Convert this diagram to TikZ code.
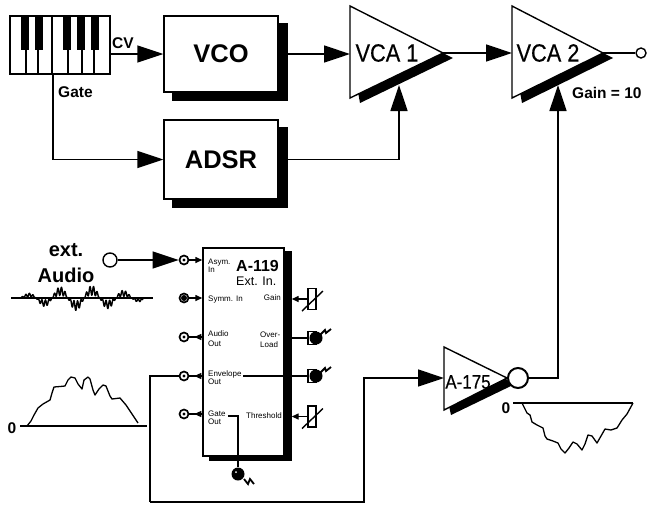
\documentclass[tikz,border=0pt]{standalone}
\usepackage{fontspec}
\setmainfont{Liberation Sans}
\newfontfamily\narrowfont[FakeStretch=0.87,FakeBold=0.4]{Liberation Sans}
\usetikzlibrary{positioning, shapes, shadows, arrows.meta, calc}

\tikzset{
	sig/.style={line width=1.4pt, -{Triangle[length=26pt,width=17pt]}},
	smallsig/.style={line width=1.4pt, -{Triangle[length=7pt,width=6pt]}},
	wire/.style={line width=1.4pt},
	mainbox/.style={draw, fill=white, line width=1.4pt, inner sep=0pt, minimum width=114pt,
		copy shadow={draw=black, fill=black, shadow xshift=9pt, shadow yshift=-8pt},
		font=\fontsize{25.5}{25.5}\selectfont\bfseries},
	jack/.style={circle, draw, fill=white, line width=1.7pt, minimum size=9pt, inner sep=0pt},
	pot/.style={draw, fill=white, line width=1.4pt, minimum width=8pt, minimum height=21pt, inner sep=0pt},
	led/.style={circle, fill=black, minimum size=13pt, inner sep=0pt},
	lab/.style={inner sep=0pt, align=left, anchor=west, font=\fontsize{8}{8}\selectfont},
	boldlab/.style={inner sep=0pt, font=\fontsize{15.5}{15.5}\selectfont\bfseries},
	vcalab/.style={inner sep=0pt, font=\fontsize{25}{25}\selectfont\narrowfont},
	curve/.style={line width=1.3pt, line join=round},
}

\begin{document}
\begin{tikzpicture}[x=1pt, y=-1pt]
	\useasboundingbox (0,0) rectangle (647,504);

	% Keyboard
	\node[draw, fill=white, line width=1.4pt, minimum width=100pt, minimum height=58pt, inner sep=0pt] (keys) at (60,45) {};
	\foreach \x in {26,38,52,68,82,94}
		\draw[wire] (\x,16) -- (\x,74);
	\foreach \x in {25,39,67,81,95}
		\fill (\x-4,16) rectangle (\x+4,50);
	\coordinate (cvout) at (110,54);
	\coordinate (gateout) at (53,74);

	% Boxes
	\node[mainbox, minimum height=76pt] (vco) at (221,54) {VCO};
	\node[mainbox, minimum height=79pt] (adsr) at (221,159.5) {ADSR\hspace{8pt}};

	% VCA 1
	\fill (358,92) -- (443,53) -- (453,58) -- (360,103) -- cycle;
	\filldraw[fill=white, line width=1.4pt] (350,6) -- (443,53) -- (350,98) -- cycle;
	\node[vcalab] (vcaone) at (387,53) {VCA 1};
	\coordinate (vcaonein) at (350,54);
	\coordinate (vcaoneout) at (443,53);
	\coordinate (vcaonecv) at (399,85);

	% VCA 2
	\fill (520,92) -- (603,53) -- (613,58) -- (522,103) -- cycle;
	\filldraw[fill=white, line width=1.4pt] (512,6) -- (603,53) -- (512,98) -- cycle;
	\node[vcalab] (vcatwo) at (548,53) {VCA 2};
	\coordinate (vcatwoin) at (512,53);
	\coordinate (vcatwoout) at (603,53);
	\coordinate (vcatwocv) at (558,85);
	\node[circle, draw, fill=white, line width=1.4pt, minimum size=10pt, inner sep=0pt] (outjack) at (641,53) {};

	% A-175
	\fill (449,406) -- (505,378) -- (513,385) -- (451,415) -- cycle;
	\filldraw[fill=white, line width=1.4pt] (444,347) -- (507,378) -- (444,410) -- cycle;
	\node[inner sep=0pt, font=\fontsize{19.5}{19.5}\selectfont\narrowfont] (invname) at (468,382) {A-175};
	\node[circle, draw, fill=white, line width=2pt, minimum size=20pt, inner sep=0pt] (inv) at (518,378) {};
	\coordinate (invin) at (444,378);

	% Signal lines, top part
	\node[boldlab, anchor=west] (cvlab) at (112,43) {CV};
	\node[boldlab, anchor=west] (gatelab) at (58,92) {Gate};
	\node[boldlab, anchor=west] (gainlab) at (572,93) {Gain = 10};
	\draw[sig] (cvout) -- (vco.west);
	\draw[sig] (gateout) |- (adsr.west);
	\draw[sig] (vco.east) -- (vcaonein);
	\draw[sig] (vcaoneout) -- (vcatwoin);
	\draw[wire] (vcatwoout) -- (outjack.west);
	\draw[sig] (adsr.east) -| (vcaonecv);
	\draw[sig] (inv.east) -| (vcatwocv);

	% A-119 module
	\node[draw, fill=white, line width=1.4pt, minimum width=81pt, minimum height=208pt, inner sep=0pt,
		copy shadow={draw=black, fill=black, shadow xshift=7pt, shadow yshift=-4pt}] (module) at (243.5,352) {};
	\node[inner sep=0pt, anchor=west, font=\fontsize{16}{16}\selectfont\bfseries] (modname) at (236,266) {A-119};
	\node[inner sep=0pt, anchor=west, font=\fontsize{12.5}{12.5}\selectfont] (modsub) at (236,281) {Ext. In.};
	\node[lab] (asymlab) at (208,266) {Asym.\\In};
	\node[lab] (symmlab) at (208,300) {Symm. In};
	\node[lab] (audiolab) at (208,339) {Audio\\[2pt]Out};
	\node[lab] (envlab) at (208,378) {Envelope\\Out};
	\node[lab] (gatemod) at (208,418) {Gate\\Out};
	\node[lab, anchor=east] (gainmod) at (281,298) {Gain};
	\node[lab] (overlab) at (260,340) {Over-\\[2pt]Load};
	\node[lab, anchor=east] (threshlab) at (282,416) {Threshold};

	% Jacks
	\node[jack] (asym) at (184,260) {};
	\node[jack] (symm) at (184,298) {};
	\node[jack] (audio) at (184,337) {};
	\node[jack] (env) at (184,376) {};
	\node[jack] (gate) at (184,414) {};
	\foreach \n in {asym,audio,env,gate}
		\fill (\n.center) circle (1.6);
	\fill (symm.center) circle (3);
	\foreach \n in {asym,symm}
		\draw[smallsig] (\n.east) -- (\n.east -| module.west);
	\foreach \n in {audio,env,gate} {
		\draw[wire] (\n.east) -- (\n.east -| module.west);
		\draw[smallsig] (\n.east -| module.west) -- +(-8,0);
	}

	% ext. Audio input
	\node[inner sep=0pt, font=\fontsize{20}{20}\selectfont\bfseries] (extlab) at (66,250) {ext.};
	\node[inner sep=0pt, font=\fontsize{20}{20}\selectfont\bfseries] (audiotxt) at (66,275) {Audio};
	\node[circle, draw, fill=white, line width=1.4pt, minimum size=14pt, inner sep=0pt] (extin) at (110,260) {};
	\draw[sig] (extin.east) -- (asym.west);

	% Controls on the right
	\node[pot] (potgain) at (312,299) {};
	\node[pot] (potthresh) at (312,416.5) {};
	\foreach \n in {potgain,potthresh}
		\draw[wire, shift={(\n.center)}] (-10,12) -- (11,-8);
	\draw[smallsig] (potgain.west) -- ([xshift=7pt]module.east |- potgain);
	\draw[smallsig] (potthresh.west) -- ([xshift=7pt]module.east |- potthresh);
	\node[draw, fill=white, line width=1.4pt, minimum width=8pt, minimum height=13pt, inner sep=0pt] (dover) at (312,338) {};
	\node[draw, fill=white, line width=1.4pt, minimum width=8pt, minimum height=13pt, inner sep=0pt] (denv) at (312,376) {};
	\node[led] (ledover) at (316,338) {};
	\node[led] (ledenv) at (316,376) {};
	\foreach \n in {ledover,ledenv}
		\draw[line width=1.8pt, shift={(\n.center)}] (4,-3) -- (9,-8) -- (10,-5) -- (15,-9);
	\draw[wire] ([xshift=7pt]module.east |- dover) -- (dover.west);
	\coordinate (envtap) at (243,376);
	\draw[wire] (envtap) -- (denv.west);

	% Gate LED below the module
	\node[led] (ledgate) at (238,474) {};
	\fill[white] (236,472) circle (1);
	\coordinate (gatetap) at (228,416);
	\draw[wire] (gatetap) -| (ledgate.north);
	\draw[line width=1.8pt] (244,479) -- (248,484) -- (250,479) -- (254,484);

	% Envelope out to A-175
	\coordinate (busleft) at (150,502);
	\coordinate (busright) at (364,502);
	\draw[wire] (env.west) -| (busleft);
	\draw[sig] (busleft) -- (busright) |- (invin);

	% Audio wave
	\draw[wire] (11,298) -- (153,298);
	\draw[line width=1.4pt, line join=round, domain=20:143, samples=320, variable=\x]
		plot ({\x}, {298-11*sin((\x-11)*1.268)*sin((\x-52)*11.25)*(0.7+0.45*sin(\x*101))});

	% Envelope curve
	\node[boldlab] (zeroa) at (12,428) {0};
	\draw[wire] (20,426) -- (147,426);
	\draw[curve] (27,426) -- (31,421) -- (34,415) -- (38,408) -- (43,404) -- (50,400) -- (52,393) -- (54,387) -- (60,386.5)
		-- (65,386) -- (68,380) -- (71,377) -- (75,378) -- (78,384) -- (82,389) -- (84,380) -- (88,377) -- (90,379)
		-- (93,390) -- (95,395) -- (99,389) -- (103,385) -- (106,386) -- (110,396) -- (112,399) -- (120,398)
		-- (126,405) -- (132,414) -- (138,423);

	% Inverted envelope
	\node[boldlab] (zerob) at (506,408) {0};
	\draw[wire] (513,403) -- (633,403);
	\draw[curve] (522,403) -- (527,413) -- (530,415) -- (532,422) -- (537,425) -- (543,428) -- (545,436) -- (547,439)
		-- (553,441) -- (558,443) -- (561,449) -- (565,453) -- (569,448) -- (573,442) -- (577,444) -- (582,450)
		-- (585,444) -- (588,435) -- (592,436) -- (597,443) -- (601,436) -- (605,429) -- (611,430) -- (617,428)
		-- (622,420) -- (627,414) -- (633,403);
\end{tikzpicture}
\end{document}
